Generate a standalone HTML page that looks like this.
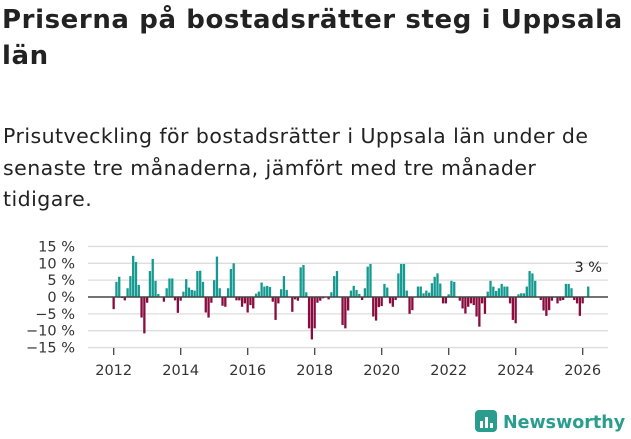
<!DOCTYPE html>
<html><head><meta charset="utf-8"><style>
body{margin:0;width:631px;height:439px;background:#fff;font-family:"DejaVu Sans","Liberation Sans",sans-serif;color:#222;overflow:hidden;position:relative}
h1{position:absolute;left:2px;top:2px;margin:0;font-size:26px;line-height:36px;font-weight:bold;white-space:nowrap;letter-spacing:0.6px}
p{position:absolute;left:3px;top:121px;margin:0;font-size:20.5px;line-height:31.5px;white-space:nowrap;color:#222;letter-spacing:0.45px}
svg{position:absolute;left:0;top:0}
</style></head><body>
<h1>Priserna på bostadsrätter steg i Uppsala<br>län</h1>
<p>Prisutveckling för bostadsrätter i Uppsala län under de<br>senaste tre månaderna, jämfört med tre månader<br>tidigare.</p>
<svg id="chart" width="631" height="439" font-family="DejaVu Sans, Liberation Sans, sans-serif"></svg>
<script>
const yTicks=[15,10,5,0,-5,-10,-15];
const yTickLabels=["15 %","10 %","5 %","0 %","−5 %","−10 %","−15 %"];
const xTicks=[2012,2014,2016,2018,2020,2022,2024,2026];
const startYear=2012;
const values=[-3.6,4.5,6,-0.3,-1,2.6,6.2,12.2,10.4,3.6,-6.1,-10.8,-1.7,7.7,11.3,4.8,0.9,0,-1.4,2.6,5.5,5.5,-1,-4.7,-1.1,1.6,5.3,2.8,2.1,1.9,7.7,7.8,4.5,-4.6,-6.1,-1.7,5,12,2.6,-2.6,-2.9,2.6,8.3,10,-1,-1,-2.9,-1.9,-4.6,-2.4,-3.4,1,1.6,4.3,3.1,3.3,3,-1.4,-6.8,-1.9,2.3,6.2,2.1,0,-4.4,-0.7,-1.1,8.8,9.5,1.4,-9.3,-12.6,-9.3,-1.7,-1.1,-0.4,0,-0.7,1.4,6.2,7.7,0,-8.3,-9.3,-4,1.9,3.3,2.1,0.9,-0.9,2.6,9,9.8,-5.8,-7,-3,-2.7,3.9,2.8,-1.9,-2.9,-0.9,7,9.8,9.8,1.9,-5,-3.9,0,3.1,3.1,1.1,1.9,1.3,4.1,6,7,4,-1.9,-1.9,0.8,4.8,4.5,0,-1.1,-3.4,-4.9,-2.9,-1.9,-2.4,-5.8,-8.8,-1.9,-5,1.6,4.8,3.1,1.8,2.6,3.9,3.1,3.1,-1.9,-6.8,-7.8,0.8,1.1,1.1,3.1,7.7,7,4.8,0,-0.9,-4,-5.6,-3.9,-1.1,0,-1.9,-1.1,-0.9,3.9,3.9,2.6,-0.9,-1.9,-5.6,-1.9,0,3.1];
const lastLabel="3 %";
const NS="http://www.w3.org/2000/svg";
const svg=document.getElementById('chart');
function y(v){return 297-v*3.37;}
function x(yr){return 113.7+(yr-startYear)*33.5;}
function mk(t,a){const e=document.createElementNS(NS,t);for(const k in a)e.setAttribute(k,a[k]);svg.appendChild(e);return e;}
yTicks.forEach((v,i)=>{
 if(v!==0){const g=mk('line',{x1:88,x2:608,y1:y(v),y2:y(v),stroke:'#ddd','stroke-width':1.3});
 
 }
 const t=mk('text',{x:75,y:y(v)+5,'text-anchor':'end','font-size':14.5,fill:'#333'});
 t.textContent=yTickLabels[i];
 
 
});
values.forEach((v,m)=>{
 const cx=x(startYear+m/12);
 const r=mk('rect',{x:cx-1.2,width:2.3,y:v>=0?y(v):y(0),height:Math.abs(v)*3.37,fill:v>=0?'#149a90':'#8a0b3d'});
 
 
});
const z=mk('line',{x1:88,x2:608,y1:y(0),y2:y(0),stroke:'#444','stroke-width':1.5});


xTicks.forEach(yr=>{
 const l=mk('line',{x1:x(yr),x2:x(yr),y1:348,y2:355,stroke:'#444','stroke-width':1.3});
 
 
 const t=mk('text',{x:x(yr),y:375,'text-anchor':'middle','font-size':14.5,fill:'#333'});
 t.textContent=yr;
 
 
});
const lx=x(startYear+(values.length-1)/12);
const lab=mk('text',{x:lx,y:272,'text-anchor':'middle','font-size':14.5,fill:'#222'});
lab.textContent=lastLabel;


</script>
<svg width="631" height="439">
<rect x="475" y="410" width="22" height="22" rx="4" fill="#2a9d8f"/>
<rect x="480" y="421" width="3" height="7" fill="#fff"/><rect x="485" y="417" width="3" height="11" fill="#fff"/><rect x="490" y="423" width="3" height="5" fill="#fff"/>
<text x="503" y="428" font-size="17.5" font-weight="bold" fill="#2a9d8f" font-family="DejaVu Sans, sans-serif">Newsworthy</text>
</svg>
</body></html>
